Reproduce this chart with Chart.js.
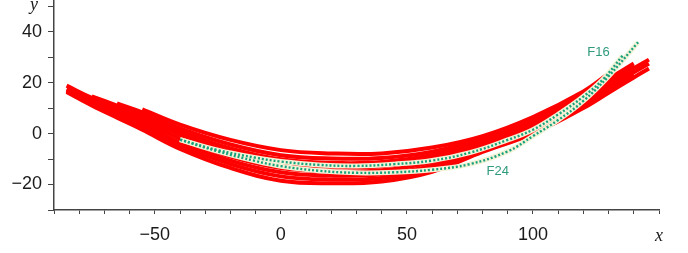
<!DOCTYPE html>
<html>
<head>
<meta charset="utf-8">
<script src="https://cdn.jsdelivr.net/npm/chart.js@4.4.1/dist/chart.umd.min.js"></script>
<style>
    html, body { margin: 0; padding: 0; background: #ffffff; }
    #wrap { width: 688px; height: 253px; }
</style>
</head>
<body>
<div id="wrap"><canvas id="trajChart" width="688" height="253"></canvas></div>
<script>
// x positions shared by the red trajectories
const redX = [-85, -75, -65, -55, -40, -20, 0, 20, 40, 60, 80, 100, 120, 130, 140, 146];

// red trajectories, null where a track has not started / already ended
const red1 = [16.3, 11, 6.2, 1.5, -6, -13.5, -18.5, -19.5, -18.8, -15, -7.2, 0, 10, 16, 22, 25.5];
const red2 = [16.7, 11.8, 7.2, 2.7, -4.8, -12, -16.8, -18, -17.4, -13.8, -6.4, 0.8, 10.8, 16.8, 23, null];
const red3 = [17, 12.5, 8.2, 3.9, -3.5, -10.6, -15.2, -16.5, -16, -12.6, -5.6, 1.6, 11.8, 17.8, 24, 27.5];
const red4 = [17.4, 13.2, 9.2, 5.1, -2, -9, -13.5, -14.8, -14.4, -11.2, -4.8, 2.5, 12.8, 18.8, 25, null];
const red5 = [18.8, 14, 10.2, 6.3, -0.5, -7.3, -11.7, -13, -12.8, -9.7, -3.8, 3.5, 13.8, 19.8, 25.6, 29];
const red6 = [null, 14.6, 11, 7.3, 0.8, -5.8, -10.1, -11.5, -11.2, -8.4, -3, 4.4, 14.6, 20.6, 26.5, null];
const red7 = [null, null, 11.8, 8.3, 2, -4.3, -8.5, -9.8, -9.6, -7.1, -2, 5.4, 15.5, 21.5, 27.5, null];
const red8 = [null, null, null, 9.5, 3.5, -2.5, -6.5, -7.8, -7.8, -5.5, -1, 6.5, 16.5, 23.5, null, null];
const redTracks = [red1, red2, red3, red4, red5, red6, red7, red8];

// the two forecast tracks
const f16X = [-40, -25, -10, 0, 15, 30, 45, 60, 75, 90, 100, 110, 120, 128, 135.5];
const f16Y = [-2.4, -6.5, -9.5, -11, -12.3, -12.7, -12, -10.6, -7.5, -2.5, 1.5, 7.5, 14.5, 21.5, 30.5];
const f24X = [-40, -25, -10, 0, 15, 30, 45, 60, 75, 90, 100, 110, 120, 130, 141.7];
const f24Y = [-2.4, -7, -10.8, -12.8, -14.6, -15.4, -15.2, -14.2, -12, -7, -1, 5.3, 12.8, 22.5, 35.8];

const trackNames = ["F16", "F24"];
const trackLabelX = [126, 86];
const trackLabelY = [31.8, -14.9];

// axis ticks
const xLabelled = [-50, 0, 50, 100];
const yLabelled = [40, 20, 0, -20];

const RED = "#ff0000";
const GREEN = "#17a07c";
const HALO = "#f2f3d6";
const INK = "#1a1a1a";

function toPoints(xs, ys) {
    return xs.map((x, i) => ({ x, y: ys[i] }));
}

function formatTick(value, labelled) {
    if (!labelled.includes(value)) return "";
    return value < 0 ? "\u2212" + Math.abs(value) : String(value);
}

const datasets = [];

[[f16X, f16Y], [f24X, f24Y]].forEach(([xs, ys]) => {
    datasets.push({
        data: toPoints(xs, ys),
        borderColor: GREEN,
        borderWidth: 2.4,
        borderDash: [2, 2],
        pointRadius: 0,
        tension: 0.4,
        order: 0
    });
    datasets.push({
        data: toPoints(xs, ys),
        borderColor: HALO,
        borderWidth: 5,
        pointRadius: 0,
        tension: 0.4,
        order: 1
    });
});

redTracks.forEach(ys => {
    datasets.push({
        data: toPoints(redX, ys),
        borderColor: RED,
        borderWidth: 4,
        pointRadius: 0,
        tension: 0.4,
        order: 2
    });
});

const decorPlugin = {
    id: "axisDecor",
    afterDatasetsDraw(chart) {
        const { ctx, scales } = chart;
        ctx.save();

        // track names
        ctx.fillStyle = "#2f9a7c";
        ctx.font = "13px 'Liberation Sans', Arial, sans-serif";
        ctx.textAlign = "center";
        ctx.textBaseline = "middle";
        trackNames.forEach((name, i) => {
            ctx.fillText(name, scales.x.getPixelForValue(trackLabelX[i]), scales.y.getPixelForValue(trackLabelY[i]));
        });

        // axis names
        ctx.fillStyle = INK;
        ctx.font = "italic 18px 'Liberation Serif', serif";
        ctx.textAlign = "center";
        ctx.fillText("y", 34, 5);
        ctx.fillText("x", 659, 236);
        ctx.restore();
    }
};

new Chart(document.getElementById("trajChart"), {
    type: "line",
    data: { datasets },
    options: {
        responsive: false,
        animation: false,
        events: [],
        layout: {
            padding: { top: 0, right: 29, bottom: 0, left: 0 }
        },
        plugins: {
            legend: { display: false },
            tooltip: { enabled: false }
        },
        scales: {
            x: {
                type: "linear",
                min: -90,
                max: 150,
                afterFit(scale) {
                    scale.height = 43;
                    scale.paddingLeft = 0;
                    scale.paddingRight = 0;
                },
                border: { display: true, color: "#444", width: 1.5 },
                grid: { drawOnChartArea: false, drawTicks: true, tickLength: 4, color: "#444" },
                ticks: {
                    stepSize: 10,
                    includeBounds: false,
                    maxRotation: 0,
                    autoSkip: false,
                    padding: 10,
                    color: INK,
                    font: { family: "'Liberation Sans', Arial, sans-serif", size: 18 },
                    callback: value => formatTick(value, xLabelled)
                }
            },
            y: {
                type: "linear",
                min: -30,
                max: 52.4,
                afterFit(scale) {
                    scale.width = 54;
                    scale.paddingTop = 0;
                    scale.paddingBottom = 0;
                },
                border: { display: true, color: "#444", width: 1.5 },
                grid: { drawOnChartArea: false, drawTicks: true, tickLength: 6, color: "#444" },
                ticks: {
                    stepSize: 10,
                    includeBounds: false,
                    autoSkip: false,
                    padding: 6,
                    color: INK,
                    font: { family: "'Liberation Sans', Arial, sans-serif", size: 18 },
                    callback: value => formatTick(value, yLabelled)
                }
            }
        }
    },
    plugins: [decorPlugin]
});
</script>
</body>
</html>
